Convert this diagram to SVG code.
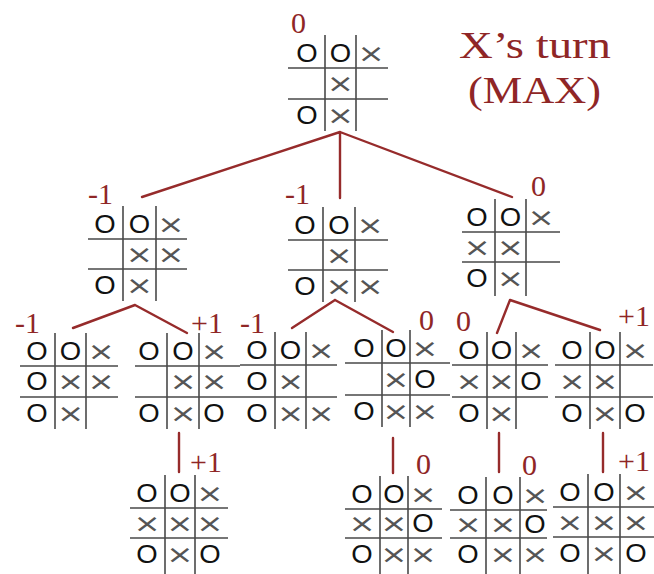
<svg xmlns="http://www.w3.org/2000/svg" width="654" height="574" viewBox="0 0 654 574">
<style>
.g{fill:none;stroke:#4a4a4a;stroke-width:1.6}
.c{fill:none;stroke:#962b2b;stroke-width:2.4;stroke-linecap:round}
.o{font-family:"Liberation Sans",Arial,sans-serif;font-size:25px;fill:#111;text-anchor:middle;transform-box:fill-box;transform-origin:center;transform:scaleX(1.1)}
.x{font-family:"DejaVu Sans",sans-serif;font-size:25px;fill:#555;text-anchor:middle;transform-box:fill-box;transform-origin:center;transform:scaleX(1.3) translateY(1px)}
.v{font-family:"Liberation Serif","Times New Roman",serif;font-size:30px;fill:#8f2626}
.t{font-family:"Liberation Serif","Times New Roman",serif;font-size:37px;fill:#8f2626}
</style>
<rect width="654" height="574" fill="#ffffff"/>
<g id="title">
<text class="t" x="459" y="58" textLength="152" lengthAdjust="spacingAndGlyphs">X’s turn</text>
<text class="t" x="468" y="103" textLength="133" lengthAdjust="spacingAndGlyphs">(MAX)</text>
</g>
<g id="connectors">
<path class="c" d="M340 132L142 197M340 132L340 198M340 132L512 197"/>
<path class="c" d="M135 305L73 328M135 305L187 333"/>
<path class="c" d="M335 300L292 328M335 300L393 332"/>
<path class="c" d="M510 300L497 333M510 300L600 330"/>
<path class="c" d="M179 433V472M393 438V473M499 433V472M603 433V472"/>
</g>
<g id="root">
<path class="g" d="M288 68H388M288 99H388M325 35V131M356 35V131"/>
<text class="o" x="307" y="62">O</text><text class="o" x="340.5" y="62">O</text><text class="x" x="371" y="61">×</text>
<text class="x" x="340.5" y="91.5">×</text>
<text class="o" x="307" y="124">O</text><text class="x" x="340.5" y="123">×</text>
<text class="v" x="291" y="33">0</text>
</g>
<g id="l1a">
<path class="g" d="M88 239H187M88 269H187M123 206V301M156 206V301"/>
<text class="o" x="105" y="233">O</text><text class="o" x="139.5" y="233">O</text><text class="x" x="171" y="232">×</text>
<text class="x" x="139.5" y="262">×</text><text class="x" x="171" y="262">×</text>
<text class="o" x="105" y="294">O</text><text class="x" x="139.5" y="293">×</text>
<text class="v" x="88" y="204">-1</text>
</g>
<g id="l1b">
<path class="g" d="M288 240H388M288 270H388M323 207V302M355 207V302"/>
<text class="o" x="305" y="234">O</text><text class="o" x="339" y="234">O</text><text class="x" x="370" y="233">×</text>
<text class="x" x="339" y="263">×</text>
<text class="o" x="305" y="295">O</text><text class="x" x="339" y="294">×</text><text class="x" x="370" y="294">×</text>
<text class="v" x="285" y="204">-1</text>
</g>
<g id="l1c">
<path class="g" d="M462 232H560M462 262H560M495 199V296M526 199V296"/>
<text class="o" x="477" y="226">O</text><text class="o" x="510.5" y="226">O</text><text class="x" x="541" y="225">×</text>
<text class="x" x="477" y="255">×</text><text class="x" x="510.5" y="255">×</text>
<text class="o" x="477" y="287">O</text><text class="x" x="510.5" y="286">×</text>
<text class="v" x="531" y="196">0</text>
</g>
<g id="b1">
<path class="g" d="M20 366H118M20 397H118M55 333V429M86 333V429"/>
<text class="o" x="37" y="360">O</text><text class="o" x="70.5" y="360">O</text><text class="x" x="101" y="359">×</text>
<text class="o" x="37" y="390.5">O</text><text class="x" x="70.5" y="389.5">×</text><text class="x" x="101" y="389.5">×</text>
<text class="o" x="37" y="422">O</text><text class="x" x="70.5" y="421">×</text>
<text class="v" x="15" y="333">-1</text>
</g>
<g id="b2">
<path class="g" d="M135 366H240M135 397H240M167 333V429M199 333V429"/>
<text class="o" x="149" y="360">O</text><text class="o" x="183" y="360">O</text><text class="x" x="214" y="359">×</text>
<text class="x" x="183" y="389.5">×</text><text class="x" x="214" y="389.5">×</text>
<text class="o" x="149" y="422">O</text><text class="x" x="183" y="421">×</text><text class="o" x="214" y="422">O</text>
<text class="v" x="191" y="333">+1</text>
</g>
<g id="b3">
<path class="g" d="M240 365H337M240 397H337M275 332V429M306 332V429"/>
<text class="o" x="257" y="359">O</text><text class="o" x="290.5" y="359">O</text><text class="x" x="321" y="358">×</text>
<text class="o" x="257" y="390">O</text><text class="x" x="290.5" y="389">×</text>
<text class="o" x="257" y="422">O</text><text class="x" x="290.5" y="421">×</text><text class="x" x="321" y="421">×</text>
<text class="v" x="240" y="333">-1</text>
</g>
<g id="b4">
<path class="g" d="M345 363H450M345 395H450M382 330V427M410 330V427"/>
<text class="o" x="364" y="357">O</text><text class="o" x="396" y="357">O</text><text class="x" x="425" y="356">×</text>
<text class="x" x="396" y="387">×</text><text class="o" x="425" y="388">O</text>
<text class="o" x="364" y="420">O</text><text class="x" x="396" y="419">×</text><text class="x" x="425" y="419">×</text>
<text class="v" x="419" y="330">0</text>
</g>
<g id="b5">
<path class="g" d="M452 365H548M452 397H548M487 332V429M516 332V429"/>
<text class="o" x="469" y="359">O</text><text class="o" x="501.5" y="359">O</text><text class="x" x="531" y="358">×</text>
<text class="x" x="469" y="389">×</text><text class="x" x="501.5" y="389">×</text><text class="o" x="531" y="390">O</text>
<text class="o" x="469" y="422">O</text><text class="x" x="501.5" y="421">×</text>
<text class="v" x="456" y="331">0</text>
</g>
<g id="b6">
<path class="g" d="M555 365H653M555 397H653M590 332V429M620 332V429"/>
<text class="o" x="572" y="359">O</text><text class="o" x="605" y="359">O</text><text class="x" x="635" y="358">×</text>
<text class="x" x="572" y="389">×</text><text class="x" x="605" y="389">×</text>
<text class="o" x="572" y="422">O</text><text class="x" x="605" y="421">×</text><text class="o" x="635" y="422">O</text>
<text class="v" x="618" y="326">+1</text>
</g>
<g id="c1">
<path class="g" d="M130 508H228M130 538H228M165 475V574M195 475V574"/>
<text class="o" x="147" y="502">O</text><text class="o" x="180" y="502">O</text><text class="x" x="210" y="501">×</text>
<text class="x" x="147" y="531">×</text><text class="x" x="180" y="531">×</text><text class="x" x="210" y="531">×</text>
<text class="o" x="147" y="563">O</text><text class="x" x="180" y="562">×</text><text class="o" x="210" y="563">O</text>
<text class="v" x="190" y="472">+1</text>
</g>
<g id="c2">
<path class="g" d="M345 509H442M345 538H442M380 476V574M408 476V574"/>
<text class="o" x="362" y="503">O</text><text class="o" x="394" y="503">O</text><text class="x" x="423" y="502">×</text>
<text class="x" x="362" y="531.5">×</text><text class="x" x="394" y="531.5">×</text><text class="o" x="423" y="532.5">O</text>
<text class="o" x="362" y="563">O</text><text class="x" x="394" y="562">×</text><text class="x" x="423" y="562">×</text>
<text class="v" x="416" y="474">0</text>
</g>
<g id="c3">
<path class="g" d="M450 510H547M450 538H547M486 477V574M520 477V574"/>
<text class="o" x="468" y="504">O</text><text class="o" x="503" y="504">O</text><text class="x" x="535" y="503">×</text>
<text class="x" x="468" y="532">×</text><text class="x" x="503" y="532">×</text><text class="o" x="535" y="533">O</text>
<text class="o" x="468" y="563">O</text><text class="x" x="503" y="562">×</text><text class="x" x="535" y="562">×</text>
<text class="v" x="522" y="475">0</text>
</g>
<g id="c4">
<path class="g" d="M553 507H654M553 537H654M588 474V574M620 474V574"/>
<text class="o" x="570" y="501">O</text><text class="o" x="604" y="501">O</text><text class="x" x="636" y="500">×</text>
<text class="x" x="570" y="530">×</text><text class="x" x="604" y="530">×</text><text class="x" x="636" y="530">×</text>
<text class="o" x="570" y="562">O</text><text class="x" x="604" y="561">×</text><text class="o" x="636" y="562">O</text>
<text class="v" x="618" y="471">+1</text>
</g>
</svg>
